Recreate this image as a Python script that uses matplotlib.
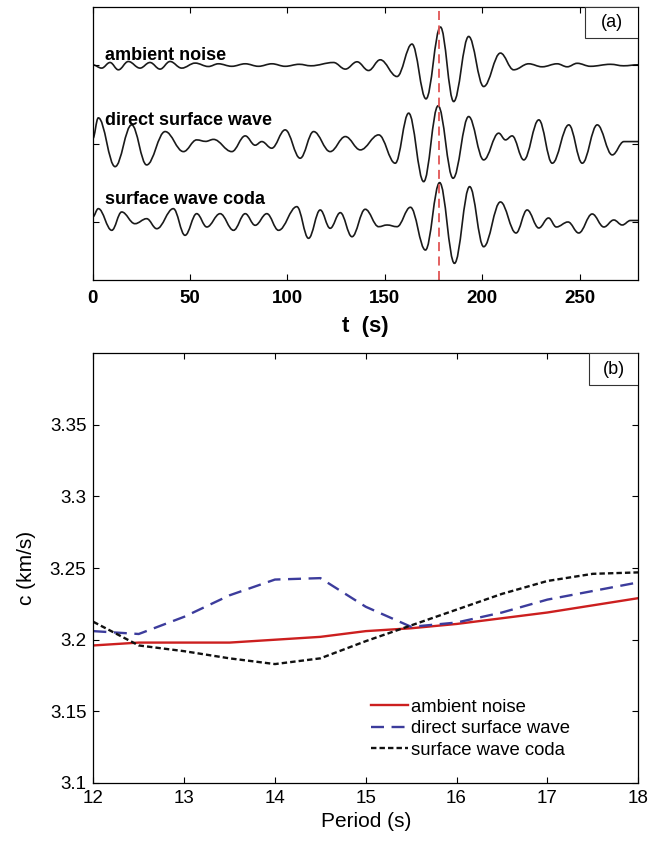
"""
Waveform comparison (a) and phase-velocity dispersion curves (b)
"""
import matplotlib
matplotlib.use("Agg")
import matplotlib.pyplot as plt
from matplotlib.path import Path
from matplotlib.patches import PathPatch, Rectangle

plt.rcParams["font.family"] = ["Liberation Sans", "DejaVu Sans"]

# ---- panel (a): extrema of each trace (t in s, amplitude in px)
amb_t = [0, 4.6, 8.9, 13.2, 18.3, 24.3, 29.4, 34.6, 39.7, 45.7, 52.6, 59.4, 64.5, 71.4, 78.3,
         85.1, 92, 98.8, 106, 112, 123.6, 129.7, 135.7, 141.6, 147.6, 156.2, 163.9, 171.1,
         178.5, 185.3, 193.0, 200.7, 209.3, 216.1, 223.8, 230.7, 238.4, 243.6, 248.7, 255.5,
         265.8, 272.5, 280]
amb_a = [0, -3.3, 2.3, -5, 3.3, -3.3, 2.3, -4.3, 3.3, -3.3, 1.7, -1.7, 1, -1.5, 1,
         -1.5, 1, -1.5, 0.5, -1, 2.3, -4.3, 3, -5.7, 5, -11.7, 20.7, -34,
         37.7, -36.7, 28.3, -21.7, 11.7, -5, 1, -2, 1, -2, 1.5, -1.5,
         0.5, -1, 0]

dir_t = [0, 2.9, 11.5, 20, 27.7, 37.2, 46.6, 53.4, 58, 62, 71.4, 78.3, 83.4, 86.8, 91.9,
         98.8, 106.5, 113.4, 121.9, 129.7, 137.4, 146.8, 155.3, 162.2, 169.9, 177.3, 185,
         193, 200.7, 208.4, 211.9, 215.3, 221.3, 229, 235.9, 244.4, 251.3, 259, 266.7,
         272.7, 280]
dir_a = [5, 26, -22.7, 19, -21, 12.3, -7.7, 4, 2.5, 4.5, -7.7, 8, -1.3, 2.3, -4.3,
         14, -14.3, 12.3, -7.7, 7.3, -6, 9, -19.3, 30.7, -37.7, 38, -34.3,
         27.3, -16, 10.7, 4, 8, -16, 24, -19.3, 19, -19.3, 19, -11,
         2.3, 2.3]

coda_t = [0, 2.9, 9.8, 14.9, 21.7, 27.7, 32.9, 41.4, 47.4, 53.4, 58.6, 65.4, 72.3, 78.3,
          83.4, 89.4, 95.4, 104.8, 110.8, 116.8, 121.9, 127.1, 133.1, 139.9, 146.8, 151.1,
          156.2, 163.1, 170.8, 178.1, 185.7, 193.5, 200.7, 209.3, 217.3, 223, 229, 234,
          238, 244, 249.5, 256.4, 262.4, 267.5, 271.8, 276.1, 280]
coda_a = [5, 13.3, -8.3, 10, -1.7, 3.3, -6.7, 13.3, -13.3, 8.3, -5, 8.3, -8.3, 8.3,
          -3.3, 8.3, -8.3, 15.3, -16.3, 12, -6.3, 9.3, -14.7, 12.7, -4.7, -3,
          -4.7, 14.7, -28, 39.3, -41.3, 35.3, -24.7, 20, -11, 12, -6, 4,
          -5, 0, -11, 8, -5, 2, -3, 1.5, 1.5]

trace_names = ["ambient noise", "direct surface wave", "surface wave coda"]
t_pick = 178

# ---- panel (b): phase velocity vs period
period = [12, 12.5, 13, 13.5, 14, 14.5, 15, 15.5, 16, 16.5, 17, 17.5, 18]
c_ambient = [3.196, 3.198, 3.198, 3.198, 3.200, 3.202, 3.206, 3.208, 3.211, 3.215, 3.219, 3.224, 3.229]
c_direct = [3.206, 3.204, 3.216, 3.231, 3.242, 3.243, 3.223, 3.209, 3.212, 3.219, 3.228, 3.234, 3.240]
c_coda = [3.2125, 3.196, 3.192, 3.187, 3.183, 3.187, 3.199, 3.210, 3.221, 3.232, 3.241, 3.246, 3.247]


def wave_path(t, a, base):
    # smooth curve through the extrema (horizontal tangent at each one)
    verts = [(t[0], base + a[0])]
    codes = [Path.MOVETO]
    for i in range(len(t) - 1):
        dt = t[i + 1] - t[i]
        verts += [(t[i] + 0.38 * dt, base + a[i]),
                  (t[i + 1] - 0.38 * dt, base + a[i + 1]),
                  (t[i + 1], base + a[i + 1])]
        codes += [Path.CURVE4] * 3
    return Path(verts, codes)


fig = plt.figure(figsize=(6.62, 8.41), dpi=100)
ax1 = fig.add_axes([0.140, 0.667, 0.824, 0.325])
ax2 = fig.add_axes([0.141, 0.069, 0.823, 0.511])

# panel (a)
bases = [215, 136, 58]
label_y = [220, 155, 76]
for (t, a), base, name, ly in zip([(amb_t, amb_a), (dir_t, dir_a), (coda_t, coda_a)],
                                  bases, trace_names, label_y):
    ax1.add_patch(PathPatch(wave_path(t, a, base), fill=False, lw=1.2, ec="#1a1a1a"))
    ax1.text(6.5, ly, name, fontsize=13, fontweight="bold", va="baseline")
ax1.axvline(t_pick, color="#e05555", lw=1.3, ls=(0, (5, 3)))
ax1.set_xlim(0, 280)
ax1.set_ylim(0, 273)
ax1.set_xticks([0, 50, 100, 150, 200, 250])
ax1.set_yticks(bases)
ax1.set_yticklabels([])
ax1.tick_params(direction="in", top=True, right=True, length=4, width=0.8,
                labelsize=13.5, pad=7)
for lab in ax1.get_xticklabels():
    lab.set_fontweight("bold")
ax1.set_xlabel("t  (s)", fontsize=16, fontweight="bold", labelpad=7)
ax1.add_patch(Rectangle((0.902, 0.886), 0.098, 0.114, transform=ax1.transAxes,
                        fill=True, fc="white", ec="#333333", lw=0.8, zorder=5))
ax1.text(0.951, 0.943, "(a)", transform=ax1.transAxes, ha="center", va="center",
         fontsize=13, zorder=6)

# panel (b)
ax2.plot(period, c_ambient, color="#cc1f1f", lw=1.7, label=trace_names[0])
ax2.plot(period, c_direct, color="#3c3c9c", lw=1.7, dashes=(5.5, 3.2), label=trace_names[1])
ax2.plot(period, c_coda, color="#111111", lw=1.7, dashes=(2.3, 1.3), label=trace_names[2])
ax2.set_xlim(12, 18)
ax2.set_ylim(3.1, 3.4)
ax2.set_xticks([12, 13, 14, 15, 16, 17, 18])
ax2.set_yticks([3.1, 3.15, 3.2, 3.25, 3.3, 3.35])
ax2.set_yticklabels(["3.1", "3.15", "3.2", "3.25", "3.3", "3.35"])
ax2.tick_params(direction="in", top=True, right=True, length=4, width=0.8,
                labelsize=13.5, pad=5)
ax2.set_xlabel("Period (s)", fontsize=15, labelpad=4)
ax2.set_ylabel("c (km/s)", fontsize=15, labelpad=10)
ax2.legend(loc="upper left", bbox_to_anchor=(0.479, 0.235), frameon=False, fontsize=13.3,
           handlelength=2.0, handletextpad=0.18, labelspacing=0.25)
ax2.add_patch(Rectangle((0.91, 0.926), 0.09, 0.074, transform=ax2.transAxes,
                        fill=True, fc="white", ec="#333333", lw=0.8, zorder=5))
ax2.text(0.955, 0.963, "(b)", transform=ax2.transAxes, ha="center", va="center",
         fontsize=13, zorder=6)

for ax in (ax1, ax2):
    for sp in ax.spines.values():
        sp.set_linewidth(0.9)

fig.savefig("out.png", dpi=100)
